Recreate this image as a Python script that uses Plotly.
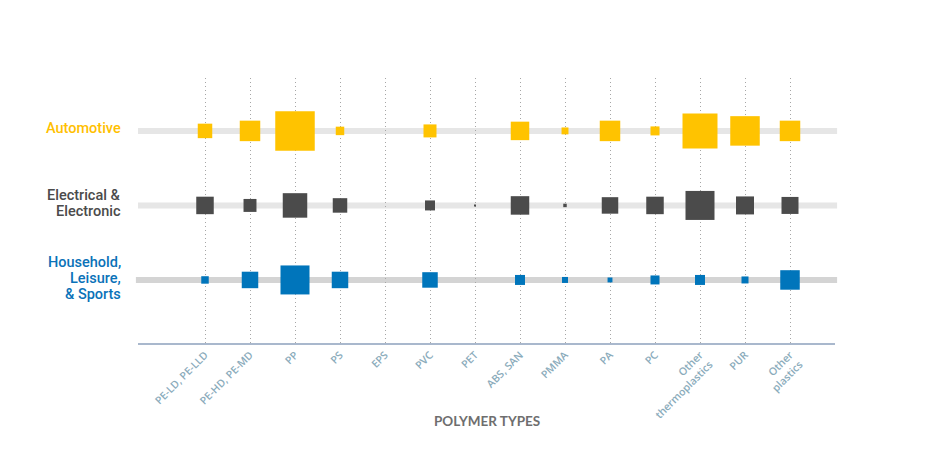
import plotly.graph_objects as go

# ---- data (values ~ area of each square) ----
polymers = ["PE-LD, PE-LLD", "PE-HD, PE-MD", "PP", "PS", "EPS", "PVC", "PET",
            "ABS, SAN", "PMMA", "PA", "PC", "Other<br>thermoplastics", "PUR",
            "Other<br>plastics"]

automotive = [210, 420, 1560, 72, None, 169, None, 342, 48, 420, 81, 1224, 870, 420]
electrical = [306, 168, 600, 210, None, 100, 4, 342, 12, 272, 306, 841, 324, 289]
household = [56, 272, 841, 272, None, 240, None, 100, 36, 24, 81, 100, 49, 380]

series = [
    ("Automotive", automotive, 2, "#ffc300", "#e6e6e6"),
    ("Electrical & Electronic", electrical, 1, "#4b4b4b", "#e6e6e6"),
    ("Household, Leisure, & Sports", household, 0, "#0075bb", "#d4d4d4"),
]

fig = go.Figure()

shapes = []
for name, vals, row, col, barcol in series:
    shapes.append(dict(type="line", xref="paper", yref="y",
                       x0=-0.003 if row == 0 else 0, x1=1.003, y0=row, y1=row,
                       line=dict(color=barcol, width=6), layer="below"))
    xs = [p for p, v in zip(polymers, vals) if v]
    vs = [v for v in vals if v]
    fig.add_trace(go.Scatter(
        x=xs, y=[row] * len(xs), mode="markers", name=name,
        marker=dict(symbol="square", size=vs, sizemode="area", sizeref=2,
                    color=col, opacity=1, line=dict(width=0)),
        hoverinfo="x+name", showlegend=False))

label_font = "Roboto, Lato, sans-serif"
annotations = []
# left labels, one annotation per text line for tight spacing
left_lines = [
    ("Automotive", 2, 2.5, "#ffc000"),
    ("Electrical &", 1, 9.75, "#4b4b4b"),
    ("Electronic", 1, -5.75, "#4b4b4b"),
    ("Household,", 0, 17.5, "#0a72b8"),
    ("Leisure,", 0, 1.5, "#0a72b8"),
    ("& Sports", 0, -14.5, "#0a72b8"),
]
for txt, row, shift, col in left_lines:
    annotations.append(dict(text=txt, xref="paper", yref="y", x=-0.021, y=row,
                            yshift=shift, xanchor="right", yanchor="middle",
                            showarrow=False,
                            font=dict(family=label_font, size=14.5, color=col,
                                      weight=500)))

annotations.append(dict(text="POLYMER TYPES", xref="paper", yref="paper",
                        x=0.5, y=-0.294, xanchor="center", yanchor="middle",
                        showarrow=False,
                        font=dict(family="Lato, Open Sans, sans-serif",
                                  size=13.5, color="#6e6e6e", weight=700)))

fig.update_layout(
    width=909, height=458,
    margin=dict(l=130, r=82, t=70, b=123),
    paper_bgcolor="white", plot_bgcolor="white",
    shapes=shapes, annotations=annotations,
    xaxis=dict(type="category", categoryorder="array", categoryarray=polymers,
               range=[-1.489, 14.0], showgrid=True, gridcolor="#a6a6a6",
               gridwidth=1, griddash="1px,3px", showline=True,
               linecolor="#a9b8cd", linewidth=1.5, ticks="", tickangle=-45,
               tickfont=dict(family="Open Sans, sans-serif", weight=600,
                             size=10.5, color="#8aabbb"),
               zeroline=False, fixedrange=True),
    yaxis=dict(range=[-0.846, 2.71], showgrid=False, showticklabels=False,
               zeroline=False, showline=False, fixedrange=True),
)

fig.write_html("out.html")
